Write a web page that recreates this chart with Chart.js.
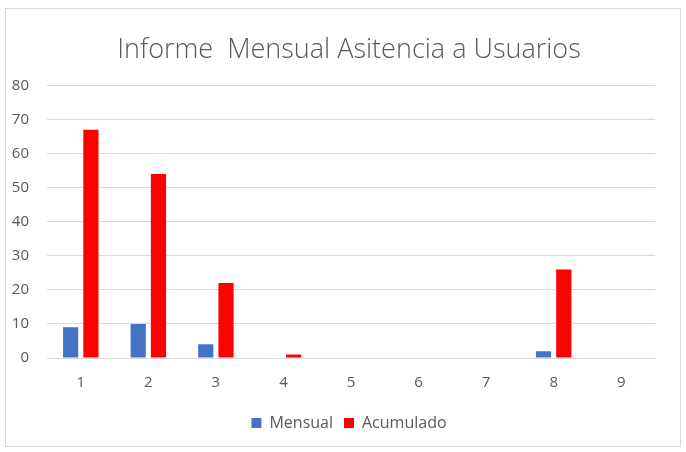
<!DOCTYPE html>
<html>
<head>
<meta charset="utf-8">
<script src="https://cdn.jsdelivr.net/npm/chart.js@4/dist/chart.umd.min.js"></script>
<style>
  html, body { margin: 0; padding: 0; background: #fff; }
  #wrap { width: 686px; height: 452px; }
</style>
</head>
<body>
<div id="wrap"><canvas id="informe" width="686" height="452"></canvas></div>
<script>
const categories = ["1", "2", "3", "4", "5", "6", "7", "8", "9"];
const mensual = [9, 10, 4, 0, 0, 0, 0, 2, 0];
const acumulado = [67, 54, 22, 1, 0, 0, 0, 26, 0];
const chartTitle = "Informe  Mensual Asitencia a Usuarios";

const textGray = "#595959";
const gridGray = "#d9d9d9";

// frame round the chart, like the Excel chart area border
const frame = {
    id: "frame",
    beforeDraw(chart) {
        const ctx = chart.ctx;
        ctx.save();
        ctx.fillStyle = "#fff";
        ctx.fillRect(0, 0, chart.width, chart.height);
        ctx.strokeStyle = gridGray;
        ctx.lineWidth = 1;
        ctx.strokeRect(5.5, 8.5, 675, 438);
        ctx.restore();
    }
};

new Chart(document.getElementById("informe"), {
    type: "bar",
    data: {
        labels: categories,
        datasets: [
            {
                label: "Mensual",
                data: mensual,
                backgroundColor: "#4472c4",
                categoryPercentage: 0.6,
                barPercentage: 0.75
            },
            {
                label: "Acumulado",
                data: acumulado,
                backgroundColor: "#ff0000",
                categoryPercentage: 0.6,
                barPercentage: 0.75
            }
        ]
    },
    plugins: [frame],
    options: {
        responsive: false,
        maintainAspectRatio: false,
        animation: false,
        layout: { padding: { left: 12, right: 0, top: 0, bottom: 11 } },
        plugins: {
            title: {
                display: true,
                text: chartTitle,
                color: textGray,
                font: { family: "Open Sans", size: 27, weight: 300 },
                padding: { top: 34, bottom: 19 }
            },
            legend: {
                position: "bottom",
                labels: {
                    color: textGray,
                    font: { family: "Open Sans", size: 16 },
                    boxWidth: 10,
                    boxHeight: 10,
                    padding: 11
                }
            },
            tooltip: { enabled: false }
        },
        scales: {
            x: {
                grid: { display: false, drawTicks: false },
                border: { color: gridGray },
                ticks: {
                    color: textGray,
                    font: { family: "Open Sans", size: 15 },
                    padding: 16
                },
                afterFit: s => { s.height = 46; }
            },
            y: {
                min: 0,
                max: 80,
                ticks: {
                    stepSize: 10,
                    color: textGray,
                    font: { family: "Open Sans", size: 15 },
                    padding: 18
                },
                grid: { color: gridGray, drawTicks: false },
                border: { display: false },
                afterFit: s => { s.width = 35; }
            },
            // empty right axis, only keeps the plot clear of the right edge
            spacer: {
                position: "right",
                display: true,
                min: 0,
                max: 80,
                ticks: { display: false },
                grid: { display: false, drawTicks: false },
                border: { display: false },
                afterFit: s => { s.width = 31; }
            }
        }
    }
});
</script>
</body>
</html>
